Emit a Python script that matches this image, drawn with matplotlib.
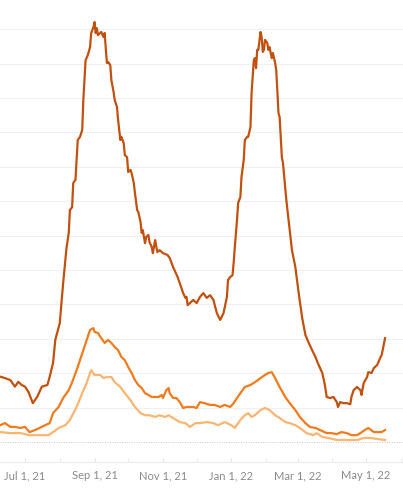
"""Three overlapping trend lines, Jun 2021 - May 2022."""

import pandas as pd
import matplotlib.pyplot as plt
import matplotlib.dates as mdates

BASE = pd.Timestamp("2021-07-01")

# day offsets from Jul 1, 2021 and values (gridline step = 10)
dark_days = [-22, -18, -13, -9, -6, -3, 0, 3, 7, 11, 15, 20, 22, 25, 27, 31, 34, 37,
             39, 40, 42, 43, 45, 47, 49, 51, 52, 54, 56, 58, 59, 61, 62, 63, 64, 65,
             67, 68, 70, 71, 73, 74, 76, 77, 79, 80, 82, 83, 85, 86, 88, 89, 91, 92,
             94, 95, 97, 98, 100, 101, 103, 104, 105, 107, 108, 110, 111, 113, 114,
             116, 118, 120, 123, 127, 129, 132, 136, 138, 141, 143, 144, 145, 147,
             150, 153, 156, 159, 162, 165, 168, 171, 174, 177, 180, 181, 183, 185,
             186, 187, 189, 190, 192, 193, 195, 196, 198, 199, 201, 202, 204, 205,
             206, 207, 208, 210, 211, 212, 213, 214, 216, 217, 218, 220, 221, 223,
             224, 226, 227, 229, 230, 232, 233, 235, 236, 238, 241, 244, 247, 250,
             253, 256, 259, 261, 265, 267, 269, 272, 275, 278, 279, 281, 284, 287,
             290, 291, 293, 296, 299, 300, 302, 305, 306, 309, 311, 314, 317, 318, 321]
dark_vals = [19.0, 18.6, 18.0, 16.1, 17.5, 16.6, 16.1, 14.6, 11.3, 13.2, 16.1, 16.6,
             19.0, 23.0, 29.7, 34.6, 46.2, 56.4, 60.8, 67.4, 68.3, 75.3, 76.2, 87.8,
             88.7, 90.7, 99.4, 111.0, 112.5, 114.8, 118.9, 120.6, 122.1, 118.9, 120.3,
             118.3, 118.9, 119.2, 117.7, 118.9, 110.2, 110.5, 109.6, 105.2, 101.7,
             99.4, 97.4, 93.6, 87.8, 88.7, 86.9, 83.4, 82.8, 78.5, 79.1, 78.2, 75.3,
             72.4, 67.4, 66.9, 64.0, 60.8, 61.6, 57.8, 59.6, 60.2, 58.1, 56.7, 54.9,
             58.7, 55.2, 55.8, 54.9, 54.4, 53.5, 50.9, 48.0, 46.2, 43.3, 41.9, 42.2,
             39.8, 40.4, 41.3, 40.4, 42.2, 43.3, 41.9, 42.7, 41.3, 37.5, 35.5, 37.5,
             42.2, 47.1, 48.0, 48.5, 52.0, 56.4, 64.5, 69.5, 71.2, 77.0, 82.0, 87.8,
             88.7, 88.7, 91.6, 101.5, 111.0, 111.6, 108.7, 114.0, 114.0, 119.2, 117.7,
             113.4, 114.0, 116.9, 116.0, 114.0, 114.8, 111.6, 113.1, 110.2, 108.1,
             95.6, 94.5, 82.8, 81.1, 74.1, 70.3, 64.5, 61.6, 55.8, 50.9, 43.3, 36.3,
             31.1, 28.8, 26.7, 24.7, 23.0, 20.1, 17.2, 13.1, 12.8, 13.1, 11.6, 10.2,
             11.6, 11.3, 11.3, 11.0, 13.1, 15.1, 16.0, 15.1, 13.7, 17.2, 18.9, 20.3,
             20.1, 21.5, 22.4, 24.7, 25.3, 30.2]

mid_days = [-22, -18, -13, -9, -4, 0, 4, 9, 13, 18, 22, 25, 30, 34, 39, 42, 46, 49,
            52, 55, 58, 61, 62, 65, 68, 71, 74, 77, 80, 83, 86, 89, 92, 95, 98, 101,
            104, 107, 110, 113, 116, 119, 122, 123, 126, 128, 129, 132, 135, 138,
            141, 144, 147, 150, 153, 156, 160, 165, 169, 174, 178, 183, 186, 189,
            192, 196, 201, 205, 210, 214, 217, 220, 223, 227, 232, 236, 241, 245,
            250, 254, 259, 263, 269, 273, 278, 282, 287, 291, 296, 299, 303, 306,
            311, 315, 318, 321]
mid_vals = [4.9, 5.5, 4.4, 4.4, 4.1, 4.4, 2.9, 3.5, 4.1, 4.9, 5.5, 8.4, 10.2, 12.8,
            15.1, 17.4, 20.9, 23.8, 26.7, 29.7, 32.6, 33.1, 32.0, 31.7, 30.2, 28.8,
            29.7, 28.8, 27.6, 26.7, 24.7, 23.8, 21.8, 20.1, 18.0, 16.6, 15.7, 14.2,
            13.7, 13.1, 13.1, 13.1, 13.7, 12.8, 15.1, 15.7, 14.2, 12.8, 12.8, 11.6,
            9.9, 10.2, 10.2, 10.2, 9.9, 11.6, 11.3, 10.8, 10.8, 10.2, 10.8, 10.2,
            11.3, 12.8, 14.2, 16.0, 16.6, 17.4, 18.6, 19.5, 20.1, 20.3, 18.6, 16.0,
            13.1, 11.3, 9.3, 7.3, 5.5, 4.4, 4.1, 3.5, 2.6, 2.6, 2.3, 2.9, 2.6, 2.0,
            2.0, 2.6, 3.5, 4.1, 2.9, 2.9, 2.9, 3.5]

light_days = [-22, -13, -4, 4, 13, 21, 25, 30, 36, 40, 46, 51, 55, 58, 59, 62, 67,
              70, 73, 77, 80, 85, 89, 94, 98, 103, 107, 111, 116, 120, 125, 128, 132,
              138, 143, 147, 152, 156, 162, 168, 172, 178, 184, 187, 192, 196, 199,
              202, 205, 210, 214, 218, 223, 227, 232, 236, 241, 245, 251, 257, 260,
              265, 270, 278, 287, 296, 302, 308, 314, 321]
light_vals = [2.9, 2.6, 2.6, 2.0, 2.0, 2.0, 2.9, 4.1, 4.9, 6.4, 10.2, 14.2, 17.2,
              20.1, 20.9, 19.5, 19.5, 18.6, 18.9, 18.9, 17.4, 16.0, 14.2, 12.2, 10.2,
              8.4, 7.8, 7.8, 7.3, 7.8, 7.3, 7.8, 7.0, 5.8, 5.5, 4.4, 5.5, 5.5, 5.8,
              5.5, 4.9, 5.8, 4.9, 4.1, 6.4, 7.8, 8.4, 7.3, 7.8, 9.3, 9.9, 9.3, 7.8,
              7.0, 5.8, 5.5, 4.9, 4.1, 2.6, 2.0, 2.6, 1.5, 1.2, 0.6, 0.6, 0.6, 1.2,
              1.2, 0.9, 0.6]


def to_dates(days):
    return BASE + pd.to_timedelta(days, unit="D")


fig = plt.figure(figsize=(4.03, 4.90), dpi=100)
ax = fig.add_axes([0, 28 / 490, 1, 462 / 490])

ax.plot(to_dates(light_days), light_vals, color="#fbb571", lw=1.6, zorder=3)
ax.plot(to_dates(mid_days), mid_vals, color="#f07b1d", lw=1.6, zorder=4)
ax.plot(to_dates(dark_days), dark_vals, color="#c2500f", lw=1.6, zorder=5)

ax.set_xlim(BASE - pd.Timedelta(days=22.3), BASE + pd.Timedelta(days=337))
ax.set_ylim(-5.8, 128.5)

for v in range(10, 130, 10):
    ax.axhline(v, color="#f0f0f0", lw=0.8, zorder=1)
ax.axhline(0, color="#c8c8c8", lw=0.7, ls=(0, (1, 1.5)), zorder=1)

for side in ["top", "left", "right"]:
    ax.spines[side].set_visible(False)
ax.spines["bottom"].set_color("#ececec")
ax.spines["bottom"].set_linewidth(0.8)

ax.set_yticks([])
ax.xaxis.set_major_locator(mdates.MonthLocator(bymonth=[1, 3, 5, 7, 9, 11]))
ax.xaxis.set_minor_locator(mdates.MonthLocator())
ax.xaxis.set_major_formatter(mdates.DateFormatter("%b %-d, %y"))
ax.tick_params(axis="x", which="both", direction="in", length=3, color="#e6e6e6",
               labelsize=8, labelcolor="#8a8a8a", pad=6)
for lbl in ax.get_xticklabels():
    lbl.set_family("Lato")

fig.savefig("out.png", dpi=100)
